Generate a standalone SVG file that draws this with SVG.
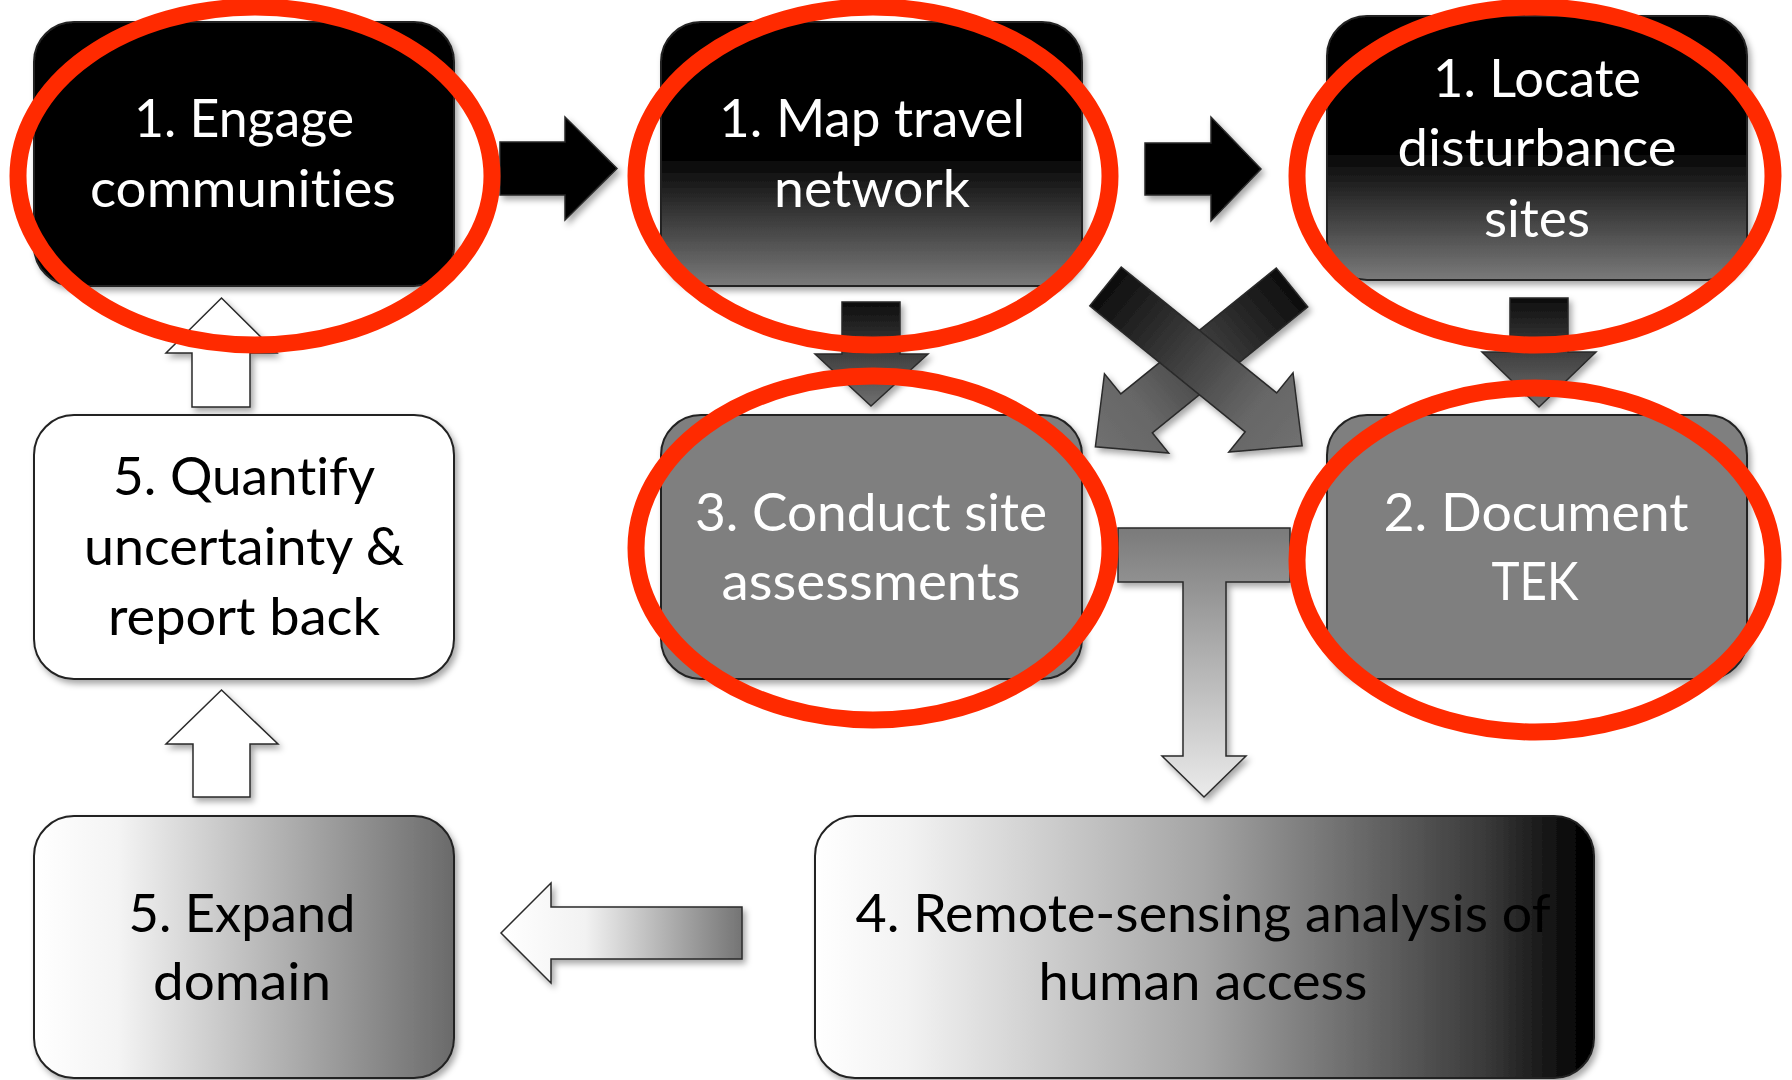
<svg xmlns="http://www.w3.org/2000/svg" width="1792" height="1080" viewBox="0 0 1792 1080">
  <defs>
    <style>
      .lbl { font-family: Lato, "Open Sans", "Liberation Sans", sans-serif; font-size: 52px; text-anchor: middle; font-variant-ligatures: none; }
      .w { fill: #ffffff; }
      .k { fill: #000000; }
      .box { stroke: #222222; stroke-width: 2; }
      .arw { stroke: #2a2a2a; stroke-width: 1.5; stroke-linejoin: miter; }
      .ann { fill: none; stroke: #ff2a00; stroke-width: 17; }
    </style>
    <filter id="sh" x="-10%" y="-10%" width="130%" height="130%">
      <feDropShadow dx="3" dy="4" stdDeviation="3" flood-color="#000" flood-opacity="0.35"/>
    </filter>
    <linearGradient id="gTop" x1="0" y1="0" x2="0" y2="1">
      <stop offset="0" stop-color="#000000"/>
      <stop offset="0.5" stop-color="#000000"/>
      <stop offset="1" stop-color="#7a7a7a"/>
    </linearGradient>
    <linearGradient id="gExpand" x1="0" y1="0" x2="1" y2="0">
      <stop offset="0" stop-color="#ffffff"/>
      <stop offset="0.2" stop-color="#f4f4f4"/>
      <stop offset="1" stop-color="#6a6a6a"/>
    </linearGradient>
    <linearGradient id="gRemote" x1="0" y1="0" x2="1" y2="0">
      <stop offset="0" stop-color="#ffffff"/>
      <stop offset="0.12" stop-color="#f2f2f2"/>
      <stop offset="0.5" stop-color="#a4a4a4"/>
      <stop offset="0.86" stop-color="#3a3a3a"/>
      <stop offset="0.98" stop-color="#050505"/>
      <stop offset="1" stop-color="#000000"/>
    </linearGradient>
    <linearGradient id="gDown" x1="0" y1="0" x2="0" y2="1">
      <stop offset="0" stop-color="#0d0d0d"/>
      <stop offset="1" stop-color="#707070"/>
    </linearGradient>
    <linearGradient id="gCross" x1="0" y1="0" x2="1" y2="0">
      <stop offset="0" stop-color="#0d0d0d"/>
      <stop offset="0.75" stop-color="#666666"/>
      <stop offset="1" stop-color="#707070"/>
    </linearGradient>
    <linearGradient id="gT" x1="0" y1="0" x2="0" y2="1">
      <stop offset="0" stop-color="#7a7a7a"/>
      <stop offset="1" stop-color="#ebebeb"/>
    </linearGradient>
    <linearGradient id="gLeft" x1="0" y1="0" x2="1" y2="0">
      <stop offset="0" stop-color="#ffffff"/>
      <stop offset="0.35" stop-color="#f2f2f2"/>
      <stop offset="1" stop-color="#747474"/>
    </linearGradient>
    <path id="xarrow" d="M0,-25 L200,-25 L200,-51 L253,0 L200,51 L200,25 L0,25 Z"/>
  </defs>

  <rect x="0" y="0" width="1792" height="1080" fill="#ffffff"/>

  <g id="connectors">
    <polygon class="arw" filter="url(#sh)" fill="#000000" points="500,142 565,142 565,117 617,168.5 565,220 565,195 500,195"/>
    <polygon class="arw" filter="url(#sh)" fill="#000000" points="1145,143 1211,143 1211,117 1261,169 1211,221 1211,195 1145,195"/>
    <polygon class="arw" filter="url(#sh)" fill="url(#gDown)" points="842,302 900,302 900,354 928,354 871,406 815,354 842,354"/>
    <polygon class="arw" filter="url(#sh)" fill="url(#gDown)" points="1510,298 1568,298 1568,352 1596,352 1539,407 1482,352 1510,352"/>
    <g filter="url(#sh)">
      <use href="#xarrow" class="arw" fill="url(#gCross)" transform="translate(1292,287.5) rotate(141)"/>
      <use href="#xarrow" class="arw" fill="url(#gCross)" transform="translate(1105.5,286.5) rotate(39)"/>
    </g>
    <polygon class="arw" filter="url(#sh)" fill="url(#gT)" points="1118,528 1290,528 1290,582 1226,582 1226,756 1246,756 1204,797 1162,756 1183,756 1183,582 1118,582"/>
    <polygon class="arw" filter="url(#sh)" fill="url(#gLeft)" points="742,907 551,907 551,883 501,933 551,983 551,959 742,959"/>
    <polygon class="arw" filter="url(#sh)" fill="#ffffff" points="192,407 250,407 250,353 277,353 221.5,298 166,353 192,353"/>
    <polygon class="arw" filter="url(#sh)" fill="#ffffff" points="193,797 250,797 250,744 278,744 221.5,690 166,744 193,744"/>
  </g>

  <g id="node-engage">
    <rect class="box" filter="url(#sh)" x="34" y="22" width="420" height="264" rx="40" fill="#000000"/>
    <text class="lbl w" x="244" y="137" textLength="220" lengthAdjust="spacingAndGlyphs">1. Engage</text>
    <text class="lbl w" x="243" y="207" textLength="306" lengthAdjust="spacingAndGlyphs">communities</text>
  </g>

  <g id="node-map">
    <rect class="box" filter="url(#sh)" x="661" y="22" width="421" height="264" rx="40" fill="url(#gTop)"/>
    <text class="lbl w" x="872" y="137" textLength="306" lengthAdjust="spacingAndGlyphs">1. Map travel</text>
    <text class="lbl w" x="872" y="207" textLength="196" lengthAdjust="spacingAndGlyphs">network</text>
  </g>

  <g id="node-locate">
    <rect class="box" filter="url(#sh)" x="1327" y="16" width="420" height="264" rx="40" fill="url(#gTop)"/>
    <text class="lbl w" x="1537" y="97" textLength="208" lengthAdjust="spacingAndGlyphs">1. Locate</text>
    <text class="lbl w" x="1537" y="166" textLength="279" lengthAdjust="spacingAndGlyphs">disturbance</text>
    <text class="lbl w" x="1537" y="237" textLength="106" lengthAdjust="spacingAndGlyphs">sites</text>
  </g>

  <g id="node-quantify">
    <rect class="box" filter="url(#sh)" x="34" y="415" width="420" height="264" rx="40" fill="#ffffff"/>
    <text class="lbl k" x="244" y="495" textLength="262" lengthAdjust="spacingAndGlyphs">5. Quantify</text>
    <text class="lbl k" x="244" y="565" textLength="320" lengthAdjust="spacingAndGlyphs">uncertainty &amp;</text>
    <text class="lbl k" x="244" y="635" textLength="272" lengthAdjust="spacingAndGlyphs">report back</text>
  </g>

  <g id="node-conduct">
    <rect class="box" filter="url(#sh)" x="661" y="415" width="421" height="264" rx="40" fill="#7f7f7f"/>
    <text class="lbl w" x="871" y="531" textLength="352" lengthAdjust="spacingAndGlyphs">3. Conduct site</text>
    <text class="lbl w" x="871" y="600" textLength="299" lengthAdjust="spacingAndGlyphs">assessments</text>
  </g>

  <g id="node-document">
    <rect class="box" filter="url(#sh)" x="1327" y="415" width="420" height="264" rx="40" fill="#7f7f7f"/>
    <text class="lbl w" x="1536" y="531" textLength="305" lengthAdjust="spacingAndGlyphs">2. Document</text>
    <text class="lbl w" x="1535" y="600" textLength="87" lengthAdjust="spacingAndGlyphs">TEK</text>
  </g>

  <g id="node-expand">
    <rect class="box" filter="url(#sh)" x="34" y="816" width="420" height="262" rx="40" fill="url(#gExpand)"/>
    <text class="lbl k" x="242" y="932" textLength="227" lengthAdjust="spacingAndGlyphs">5. Expand</text>
    <text class="lbl k" x="242" y="1000" textLength="178" lengthAdjust="spacingAndGlyphs">domain</text>
  </g>

  <g id="node-remote">
    <rect class="box" filter="url(#sh)" x="815" y="816" width="779" height="262" rx="40" fill="url(#gRemote)"/>
    <text class="lbl k" x="1203" y="932" textLength="695" lengthAdjust="spacingAndGlyphs">4. Remote-sensing analysis of</text>
    <text class="lbl k" x="1203" y="1000" textLength="329" lengthAdjust="spacingAndGlyphs">human access</text>
  </g>

  <g id="annotations">
    <ellipse class="ann" cx="255" cy="176" rx="237" ry="169"/>
    <ellipse class="ann" cx="873" cy="176" rx="237" ry="169"/>
    <ellipse class="ann" cx="1535" cy="176" rx="238" ry="169"/>
    <ellipse class="ann" cx="873" cy="548" rx="237" ry="172"/>
    <ellipse class="ann" cx="1535" cy="560" rx="238" ry="172"/>
  </g>
</svg>
